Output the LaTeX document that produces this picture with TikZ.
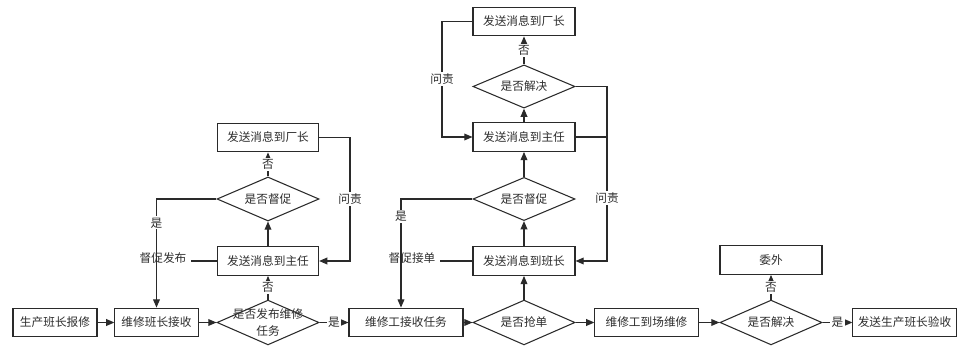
\documentclass[tikz,border=0pt]{standalone}
\usepackage{fontspec}
\newfontfamily\cjk{Noto Sans CJK SC}
\usepackage{xcolor}
\usepackage{tikz}
\usetikzlibrary{positioning,arrows.meta,calc,shapes.geometric}
\definecolor{mLine}{HTML}{2A2A2A}
\definecolor{mText}{HTML}{2E2E2E}

\begin{document}
\begin{tikzpicture}[x=0.025cm, y=-0.025cm, font=\cjk\fontsize{8.3}{12}\selectfont, text=mText,
  box/.style={draw=mLine, line width=0.75pt, minimum height=0.72cm, inner sep=0pt},
  dia/.style={draw=mLine, line width=0.75pt, shape=diamond, aspect=2.3, minimum width=2.55cm, minimum height=1.12cm, inner sep=0pt},
  arr/.style={draw=mLine, line width=0.75pt, -{Triangle[length=5.8pt,width=4.8pt]}},
  con/.style={draw=mLine, line width=0.75pt},
  lbl/.style={fill=white, inner sep=1pt}]
\fill[white] (0,0) rectangle (976,354);
\node[box, minimum width=2.1cm] (report) at (55,322.5) {生产班长报修};
\node[box, minimum width=2.08cm] (recv) at (156.5,322.5) {维修班长接收};
\node[dia, label={[align=center]center:是否发布维修\\任务}] (pub) at (268,322.5) {};
\node[box, minimum width=2.53cm] (dirL) at (268,261) {发送消息到主任};
\node[dia, minimum height=1.1cm] (urgeL) at (268,199) {是否督促};
\node[box, minimum width=2.53cm] (facL) at (268,137.5) {发送消息到厂长};
\node[box, minimum width=2.85cm] (takeTask) at (406,322.5) {维修工接收任务};
\node[dia] (grab) at (524,322.5) {是否抢单};
\node[box, minimum width=2.55cm] (leadM) at (524,261) {发送消息到班长};
\node[dia, minimum height=1.08cm] (urgeM) at (524,199) {是否督促};
\node[box, minimum width=2.55cm] (dirM) at (524,137) {发送消息到主任};
\node[dia, minimum height=1.08cm] (solveM) at (524,86.5) {是否解决};
\node[box, minimum width=2.55cm] (facM) at (524,21.5) {发送消息到厂长};
\node[box, minimum width=2.58cm] (repair) at (646.5,322.5) {维修工到场维修};
\node[dia] (solveB) at (771,322.5) {是否解决};
\node[box, minimum width=2.55cm] (outsrc) at (771,260) {委外};
\node[box, minimum width=2.58cm] (check) at (904.5,322.5) {发送生产班长验收};
\node (urgeTxtL) at (163,258) {督促发布};
\node (urgeTxtM) at (412,258) {督促接单};
\coordinate (busL) at (350,0);
\coordinate (busM) at (442,0);
\coordinate (busR) at (607,0);
\coordinate (busY) at (401,0);
\draw[arr] (report) -- (recv);
\draw[arr] (recv) -- (pub);
\draw[arr] (pub) -- node[lbl]{是} (takeTask);
\draw[arr] (takeTask) -- (grab);
\draw[arr] (grab) -- (repair);
\draw[arr] (repair) -- (solveB);
\draw[arr] (solveB) -- node[lbl]{是} (check);
\draw[arr] (solveB) -- node[lbl]{否} (outsrc);
\draw[arr] (pub) -- node[lbl]{否} (dirL);
\draw[arr] (dirL) -- (urgeL);
\draw[arr] (urgeL) -- node[lbl]{否} (facL);
\draw[arr] (facL.east) -- (busL |- facL.east) -- node[lbl]{问责} (busL |- dirL.east) -- (dirL.east);
\draw[arr] (urgeL.west) -| node[lbl, pos=0.61]{是} (recv.north);
\draw[con] (dirL.west) -- (dirL.west -| urgeTxtL.east);
\draw[arr] (grab) -- (leadM);
\draw[arr] (leadM) -- (urgeM);
\draw[arr] (urgeM) -- (dirM);
\draw[arr] (dirM) -- (solveM);
\draw[arr] (solveM) -- node[lbl]{否} (facM);
\draw[arr] (facM.west) -- (busM |- facM.west) -- node[lbl]{问责} (busM |- dirM.west) -- (dirM.west);
\draw[arr] (solveM.east) -- (busR |- solveM.east) -- node[lbl, pos=0.64]{问责} (busR |- leadM.east) -- (leadM.east);
\draw[con] (dirM.east) -- (busR |- dirM.east);
\draw[arr] (urgeM.west) -| node[lbl, pos=0.58]{是} (busY |- takeTask.north);
\draw[con] (leadM.west) -- (leadM.west -| urgeTxtM.east);
\end{tikzpicture}
\end{document}
